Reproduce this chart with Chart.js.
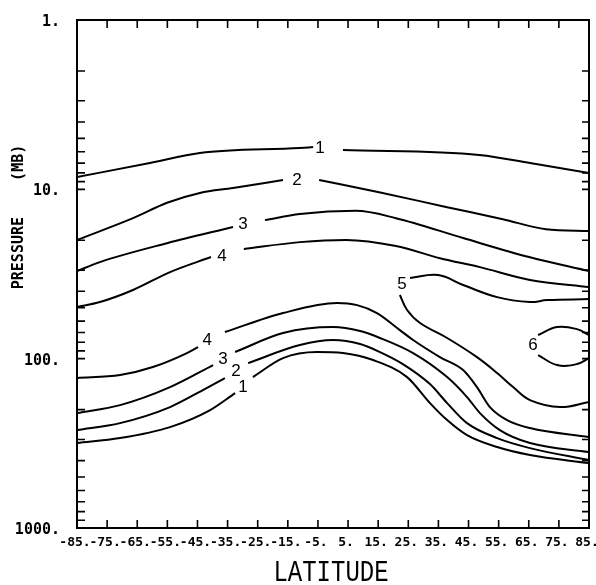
<!DOCTYPE html>
<html>
<head>
<meta charset="utf-8">
<script src="https://cdn.jsdelivr.net/npm/chart.js@4.4.1/dist/chart.umd.min.js"></script>
<style>
html, body { margin:0; padding:0; background:#fff; }
</style>
</head>
<body>
<canvas id="c" width="596" height="585"></canvas>
<script>
/* ==========================================================
   AXIS TICKS
========================================================== */

const latTicks = [-85, -75, -65, -55, -45, -35, -25, -15, -5, 5, 15, 25, 35, 45, 55, 65, 75, 85];

const presLabels = [1, 10, 100, 1000];

const presMarks = [
    2, 3, 4, 5, 6, 7, 8, 9, 10,
    20, 30, 40, 50, 60, 70, 80, 90, 100,
    200, 300, 400, 500, 600, 700, 800, 900
];

/* ==========================================================
   CONTOURS  (latitude, pressure mb; null = gap at a label)
========================================================== */

const up1Lat  = [-85, -60.8, -44.2, -11, -6.6, null, 3.3, 48.5, 67.4, 85];
const up1Pres = [8.46, 6.99, 6.10, 5.70, 5.63, null, 5.86, 6.27, 7.09, 8.01];

const up2Lat  = [-85, -66.4, -55.1, -44.2, -33.2, -16.6, null, -4.6, 15.3, 37.5, 56.4, 70.7, 85];
const up2Pres = [19.9, 14.8, 12.0, 10.5, 9.82, 8.81, null, 8.81, 10.4, 12.7, 15.0, 17.2, 17.6];

const up3Lat  = [-85, -77.4, -55.1, -33.2, null, -22.6, -11.0, 7.6, 20.9, 43.2, 65.1, 85];
const up3Pres = [30.4, 26.9, 20.8, 16.7, null, 15.2, 14.0, 13.4, 14.8, 19.4, 25.1, 30.4];

const up4Lat  = [-85, -77.4, -66.4, -54.1, -40.5, null, -29.6, -11.0, 4.3, 20.9, 35.5, 48.8, 65.4, 85];
const up4Pres = [49.6, 46.3, 39.3, 30.8, 25.1, null, 22.5, 20.5, 19.9, 21.6, 25.5, 28.8, 34.3, 37.8];

const c5Lat  = [85, 75.4, 65.4, 59.8, 54.5, 47.8, 37.9, 28.9, 24.6, 22.2, null, 25.6, 34.9, 43.2, 54.5, 65.4, 71.1, 85];
const c5Pres = [180.5, 193.1, 175.6, 147.2, 121.6, 97.9, 75.5, 61.6, 51.6, 42.1, null, 33.4, 32.1, 36.7, 43.3, 46.3, 45.1, 44.5];

const c6Lat  = [85, 81.0, 74.4, 68.1, null, 68.1, 74.4, 81.0, 85];
const c6Pres = [72.5, 66.9, 65.1, 72.5, null, 95.2, 109.1, 107.6, 99.2];

const lo4Lat  = [-85, -70.7, -59.8, -48.5, -44.8, null, -35.9, -16.6, 1.3, 8.0, 14.6, 22.2, 26.6, 35.5, 43.2, 47.8, 52.1, 57.8, 65.4, 85];
const lo4Pres = [130.2, 125.0, 112.1, 92.7, 85.4, null, 69.6, 53.8, 46.9, 48.3, 53.8, 67.8, 77.6, 97.9, 116.8, 147.2, 193.1, 230.5, 257.0, 290.5];

const lo3Lat  = [-85, -70.7, -54.1, -39.8, null, -32.5, -16.6, 0, 9.0, 15.6, 26.6, 37.9, 44.5, 48.8, 55.4, 65.4, 85];
const lo3Pres = [209.6, 188.0, 147.2, 109.1, null, 91.4, 70.6, 65.1, 68.7, 75.5, 92.7, 128.5, 168.6, 209.6, 264.1, 315.0, 356.2];

const lo2Lat  = [-85, -70.7, -54.1, -43.2, -35.9, null, -28.2, -11.0, 0, 9.0, 15.6, 23.2, 32.2, 37.9, 44.5, 54.5, 65.4, 85];
const lo2Pres = [264.1, 240.2, 193.1, 153.3, 130.2, null, 106.2, 83.1, 77.6, 81.9, 91.4, 107.6, 141.3, 182.9, 240.2, 294.5, 337.4, 397.2];

const lo1Lat  = [-85, -70.7, -54.1, -40.8, -32.5, null, -26.6, -16.6, -5.3, 3.3, 13.3, 24.6, 32.2, 37.9, 44.5, 54.5, 65.4, 85];
const lo1Pres = [315.0, 294.5, 253.6, 201.2, 159.7, null, 128.5, 99.2, 91.4, 92.7, 101.9, 128.5, 182.9, 230.5, 282.8, 332.7, 371.0, 413.6];

/* ==========================================================
   CONTOUR LABELS
========================================================== */

const labelText = ["1", "2", "3", "4", "5", "6", "4", "3", "2", "1"];
const labelLat  = [-4.3, -12.0, -29.9, -36.9, 22.9, 66.4, -41.8, -36.5, -32.2, -29.9];
const labelPres = [5.70, 8.81, 16.2, 24.8, 36.3, 83.1, 77.6, 100.6, 118.4, 147.2];

/* ==========================================================
   DATASETS
========================================================== */

// lines that run left to right get monotone curves, the two closed-ish ones get bezier
const lines = [
    [up1Lat, up1Pres, true], [up2Lat, up2Pres, true], [up3Lat, up3Pres, true], [up4Lat, up4Pres, true],
    [c5Lat, c5Pres, false], [c6Lat, c6Pres, false],
    [lo4Lat, lo4Pres, true], [lo3Lat, lo3Pres, true], [lo2Lat, lo2Pres, true], [lo1Lat, lo1Pres, true]
];

const datasets = lines.map(function(l){
    return {
        data: l[0].map(function(x, i){ return { x: x, y: l[1][i] }; }),
        showLine: true,
        borderColor: "#000",
        borderWidth: 2,
        pointRadius: 0,
        cubicInterpolationMode: l[2] ? "monotone" : "default",
        tension: 0.4,
        spanGaps: false
    };
});

/* ==========================================================
   FRAME, INWARD TICKS, LABELS, TITLES
========================================================== */

const framePlugin = {
    id: "frame",
    beforeDraw(chart){
        const ctx = chart.ctx;
        ctx.save();
        ctx.fillStyle = "#fff";
        ctx.fillRect(0, 0, chart.width, chart.height);
        ctx.restore();
    },
    afterDatasetsDraw(chart){
        const ctx = chart.ctx;
        const a = chart.chartArea;
        const xs = chart.scales.x;
        const ys = chart.scales.y;

        ctx.save();
        ctx.strokeStyle = "#000";
        ctx.lineWidth = 2;
        ctx.strokeRect(a.left, a.top, a.right - a.left, a.bottom - a.top);

        ctx.lineWidth = 1.6;
        ctx.beginPath();
        latTicks.forEach(function(v){
            const px = xs.getPixelForValue(v);
            ctx.moveTo(px, a.top);    ctx.lineTo(px, a.top + 8);
            ctx.moveTo(px, a.bottom); ctx.lineTo(px, a.bottom - 8);
        });
        presMarks.forEach(function(v){
            const py = ys.getPixelForValue(v);
            ctx.moveTo(a.left, py);  ctx.lineTo(a.left + 8, py);
            ctx.moveTo(a.right, py); ctx.lineTo(a.right - 7, py);
        });
        ctx.stroke();

        ctx.fillStyle = "#000";

        // tick labels
        ctx.textBaseline = "middle";
        ctx.textAlign = "center";
        ctx.font = "bold 13px 'DejaVu Sans Mono', monospace";
        latTicks.forEach(function(v){
            ctx.fillText(v + ".", xs.getPixelForValue(v) - 2, a.bottom + 15);
        });
        ctx.textAlign = "right";
        ctx.font = "bold 15px 'DejaVu Sans Mono', monospace";
        presLabels.forEach(function(v){
            ctx.fillText(v + ".", a.left - 17, ys.getPixelForValue(v) + 2);
        });

        // contour labels
        ctx.textAlign = "center";
        ctx.font = "17px 'Liberation Sans', Arial, sans-serif";
        labelText.forEach(function(t, i){
            ctx.fillText(t, xs.getPixelForValue(labelLat[i]), ys.getPixelForValue(labelPres[i]));
        });

        // x title
        ctx.save();
        ctx.translate(331, 573);
        ctx.scale(1, 1.25);
        ctx.font = "24px 'Liberation Mono', monospace";
        ctx.fillText("LATITUDE", 0, 0);
        ctx.restore();

        // y title
        ctx.save();
        ctx.translate(19, 217);
        ctx.rotate(-Math.PI / 2);
        ctx.font = "bold 15px 'DejaVu Sans Mono', monospace";
        ctx.fillText("PRESSURE    (MB)", 0, 0);
        ctx.restore();

        ctx.restore();
    }
};

/* ==========================================================
   CHART
========================================================== */

new Chart(document.getElementById("c").getContext("2d"), {
    type: "scatter",
    data: { datasets: datasets },
    options: {
        responsive: false,
        animation: false,
        events: [],
        layout: { autoPadding: false, padding: { top: 20, right: 7, left: 0, bottom: 0 } },
        plugins: { legend: { display: false }, tooltip: { enabled: false } },
        scales: {
            x: {
                type: "linear",
                min: -85,
                max: 85,
                grid: { display: false },
                border: { display: false },
                ticks: { display: false },
                afterFit: function(s){ s.height = 57; }
            },
            y: {
                type: "logarithmic",
                reverse: true,
                min: 1,
                max: 1000,
                grid: { display: false },
                border: { display: false },
                ticks: { display: false },
                afterFit: function(s){ s.width = 77; }
            }
        }
    },
    plugins: [framePlugin]
});
</script>
</body>
</html>
